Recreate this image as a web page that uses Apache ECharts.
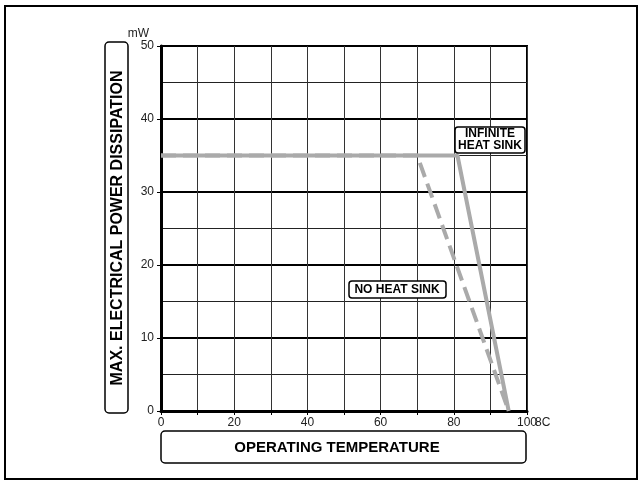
<!DOCTYPE html>
<html>
<head>
<meta charset="utf-8">
<script src="https://cdn.jsdelivr.net/npm/echarts@6/dist/echarts.min.js"></script>
<style>
  html, body { margin: 0; padding: 0; background: #fff; }
  #chart { width: 643px; height: 483px; }
</style>
</head>
<body>
<div id="chart"></div>
<script>
  // temperature (°C) -> max power (mW)
  const infiniteSink = [[0, 35], [81, 35], [95, 0]]
  const noSink = [[0, 35], [70, 35], [95, 0]]
  const xLabels = [0, 20, 40, 60, 80, 100]
  const yLabels = [0, 10, 20, 30, 40, 50]

  const chart = echarts.init(document.getElementById('chart'))
  const tickFont = "'Liberation Sans Narrow', 'Liberation Sans', sans-serif"
  const boldFont = "'Liberation Sans', Arial, sans-serif"

  const option = {
    animation: false,
    backgroundColor: '#fff',
    grid: {
      left: 161, right: 116, top: 46, bottom: 72,
      show: true, borderColor: '#000', borderWidth: 2
    },
    xAxis: {
      type: 'value', min: 0, max: 100, interval: 10,
      name: '8C', nameLocation: 'end', nameGap: 8, nameMoveOverlap: false,
      nameTextStyle: { fontFamily: tickFont, fontSize: 12, color: '#222', align: 'left', verticalAlign: 'top', padding: [6, 0, 0, 0] },
      axisLine: { show: true, lineStyle: { color: '#000', width: 3 } },
      axisTick: { show: true, length: 4, lineStyle: { color: '#000', width: 1 } },
      axisLabel: {
        fontFamily: tickFont, fontSize: 12, color: '#222', margin: 6,
        formatter: v => xLabels.includes(v) ? String(v) : ''
      },
      splitLine: { show: true, lineStyle: { color: '#333', width: 1 } }
    },
    yAxis: {
      type: 'value', min: 0, max: 50, interval: 10,
      name: 'mW', nameLocation: 'end', nameGap: 4,
      nameTextStyle: { fontFamily: tickFont, fontSize: 12, color: '#222', align: 'right', padding: [0, 12, 0, 0] },
      axisLine: { show: true, lineStyle: { color: '#000', width: 3 } },
      axisTick: { show: true, length: 4, lineStyle: { color: '#000', width: 1 } },
      axisLabel: {
        fontFamily: tickFont, fontSize: 12, color: '#222', margin: 7,
        formatter: v => yLabels.includes(v) ? String(v) : ''
      },
      splitLine: { show: true, lineStyle: { color: '#000', width: 2 } },
      minorTick: { show: false, splitNumber: 2 },
      minorSplitLine: { show: true, lineStyle: { color: '#222', width: 1 } }
    },
    series: [
      {
        name: 'INFINITE HEAT SINK', type: 'line', data: infiniteSink,
        symbol: 'none', z: 3,
        lineStyle: { color: '#aaaaaa', width: 4 }
      },
      {
        name: 'NO HEAT SINK', type: 'line', data: noSink,
        symbol: 'none', z: 3,
        lineStyle: { color: '#aaaaaa', width: 4, type: [15, 7] }
      }
    ],
    graphic: [
      // outer frame
      { type: 'rect', shape: { x: 5, y: 6, width: 632, height: 473 },
        style: { fill: 'none', stroke: '#000', lineWidth: 2 }, z: 1 },
      // y axis title box
      { type: 'rect', shape: { x: 105, y: 42, width: 23, height: 371, r: 4 },
        style: { fill: '#fff', stroke: '#000', lineWidth: 1.5 } },
      { type: 'text', x: 118, y: 228, rotation: Math.PI / 2,
        style: { text: 'MAX. ELECTRICAL POWER DISSIPATION', font: 'bold 16px ' + boldFont,
                 fill: '#000', align: 'center', verticalAlign: 'middle' } },
      // x axis title box
      { type: 'rect', shape: { x: 161, y: 431, width: 365, height: 32, r: 4 },
        style: { fill: '#fff', stroke: '#000', lineWidth: 1.5 } },
      { type: 'text', x: 337, y: 448,
        style: { text: 'OPERATING TEMPERATURE', font: 'bold 15px ' + boldFont,
                 fill: '#000', align: 'center', verticalAlign: 'middle' } },
      // curve labels
      { type: 'rect', shape: { x: 455, y: 127, width: 70, height: 26, r: 3 },
        style: { fill: '#fff', stroke: '#000', lineWidth: 1.5 }, z: 10 },
      { type: 'text', x: 490, y: 140, z: 11,
        style: { text: 'INFINITE\nHEAT SINK', font: 'bold 12px ' + boldFont, lineHeight: 12,
                 fill: '#000', align: 'center', verticalAlign: 'middle' } },
      { type: 'rect', shape: { x: 349, y: 281, width: 97, height: 17, r: 3 },
        style: { fill: '#fff', stroke: '#000', lineWidth: 1.5 }, z: 10 },
      { type: 'text', x: 397, y: 290, z: 11,
        style: { text: 'NO HEAT SINK', font: 'bold 12px ' + boldFont,
                 fill: '#000', align: 'center', verticalAlign: 'middle' } }
    ]
  }

  chart.setOption(option)
</script>
</body>
</html>
